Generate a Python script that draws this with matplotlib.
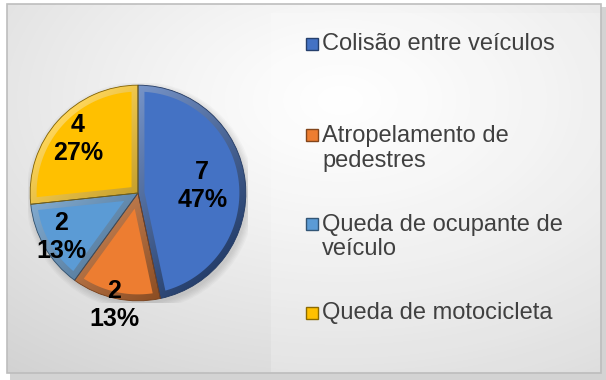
import numpy as np
import matplotlib.pyplot as plt
from matplotlib.patches import Rectangle, Polygon, Circle
import matplotlib.colors as mcolors

categorias = ['Colisão entre veículos', 'Atropelamento de\npedestres',
              'Queda de ocupante de\nveículo', 'Queda de motocicleta']
valores = [7, 2, 2, 4]
cores = ['#4472C4', '#ED7D31', '#5B9BD5', '#FFC000']

plt.rcParams['font.family'] = ['Liberation Sans', 'DejaVu Sans']

W, H = 606, 380
fig = plt.figure(figsize=(W / 100, H / 100), dpi=100)


def escurecer(c, f):
    r, g, b = mcolors.to_rgb(c)
    return np.array([r * f, g * f, b * f])


def clarear(c, f):
    r, g, b = mcolors.to_rgb(c)
    return np.array([r + (1 - r) * f, g + (1 - g) * f, b + (1 - b) * f])


# fundo em pixels (y para baixo)
bg = fig.add_axes([0, 0, 1, 1])
bg.axis('off')

bg.add_patch(Rectangle((10, 7), 596, 373, fc='#d3d3d3', ec='none', zorder=0))
x0, y0, x1, y1 = 7, 4, 601, 373
yy, xx = np.mgrid[y0:y1, x0:x1]
dist = np.hypot((xx - 340) / W, (yy - 100) / H)
g = np.clip(1.0 - 0.2 * dist ** 1.2, 0, 1)
bg.imshow(np.dstack([g, g, g]), extent=[x0, x1, y1, y0], origin='upper',
          aspect='auto', zorder=1)
bg.add_patch(Rectangle((x0, y0), x1 - x0, y1 - y0, fc='none', ec='#bdbdbd',
                       lw=1.2, zorder=2))
bg.add_patch(Rectangle((271, 13), 329, 359, fc='white', alpha=0.22, ec='none', zorder=2))
bg.set_xlim(0, W)
bg.set_ylim(H, 0)

# legenda
marca_y = [44, 135, 224, 313]
texto_y = [44, 148.5, 237, 313]
for cat, cor, ym, yt in zip(categorias, cores, marca_y, texto_y):
    bg.add_patch(Rectangle((306, ym - 6), 12, 12, fc=cor, ec=escurecer(cor, 0.55),
                           lw=1, zorder=3))
    bg.text(322, yt, cat, fontsize=17, color='#404040', va='center', ha='left',
            linespacing=1.15, zorder=3)

# pizza
ax = fig.add_axes([28 / W, (H - 303) / H, 220 / W, 220 / H])

# sombra suave
for k in range(6):
    ax.add_patch(Circle((0.02, -0.03), 1.0 + 0.012 * k, fc='black', alpha=0.025,
                        ec='none', zorder=0))

wedges, _ = ax.pie(valores, colors=cores, startangle=90, counterclock=False,
                   wedgeprops=dict(edgecolor='none'))

R, d = 1.0, 0.06

# gradiente do chanfro: claro em cima/esquerda, escuro embaixo/direita
gy, gx = np.mgrid[1:-1:300j, -1:1:300j]
t = np.clip((gx - gy) / 2.83 + 0.5, 0, 1)[..., None]


def face(t1, t2):
    t1, t2 = np.radians(t1), np.radians(t2)
    m, h = (t1 + t2) / 2, (t2 - t1) / 2
    a = d / np.sin(h)
    delta = np.arcsin(d / (R - d))
    arco = np.linspace(t1 + delta, t2 - delta, 120)
    pts = [(a * np.cos(m), a * np.sin(m))]
    pts += list(zip((R - d) * np.cos(arco), (R - d) * np.sin(arco)))
    return pts


for w, cor in zip(wedges, cores):
    claro = clarear(cor, 0.35)
    escuro = escurecer(cor, 0.55)
    img = claro * (1 - t) + escuro * t
    im = ax.imshow(img, extent=[-1, 1, -1, 1], origin='upper', zorder=2,
                   interpolation='bilinear')
    im.set_clip_path(w)
    w.set_edgecolor(escurecer(cor, 0.5))
    w.set_linewidth(0.6)
    w.set_facecolor('none')
    w.set_zorder(3)
    ax.add_patch(Polygon(face(w.theta1, w.theta2), closed=True,
                         fc=cor, ec='none', zorder=4))

ax.set_xlim(-1.02, 1.02)
ax.set_ylim(-1.02, 1.02)
ax.set_aspect('equal')

raios = [0.6, 1.06, 0.82, 0.75]
total = sum(valores)
for w, v, r in zip(wedges, valores, raios):
    ang = np.radians((w.theta1 + w.theta2) / 2)
    ax.text(r * np.cos(ang), r * np.sin(ang),
            f'{v}\n{round(100 * v / total)}%', ha='center', va='center',
            fontsize=18, fontweight='bold', color='black', linespacing=1.2,
            zorder=6)

fig.savefig('out.png', dpi=100)
